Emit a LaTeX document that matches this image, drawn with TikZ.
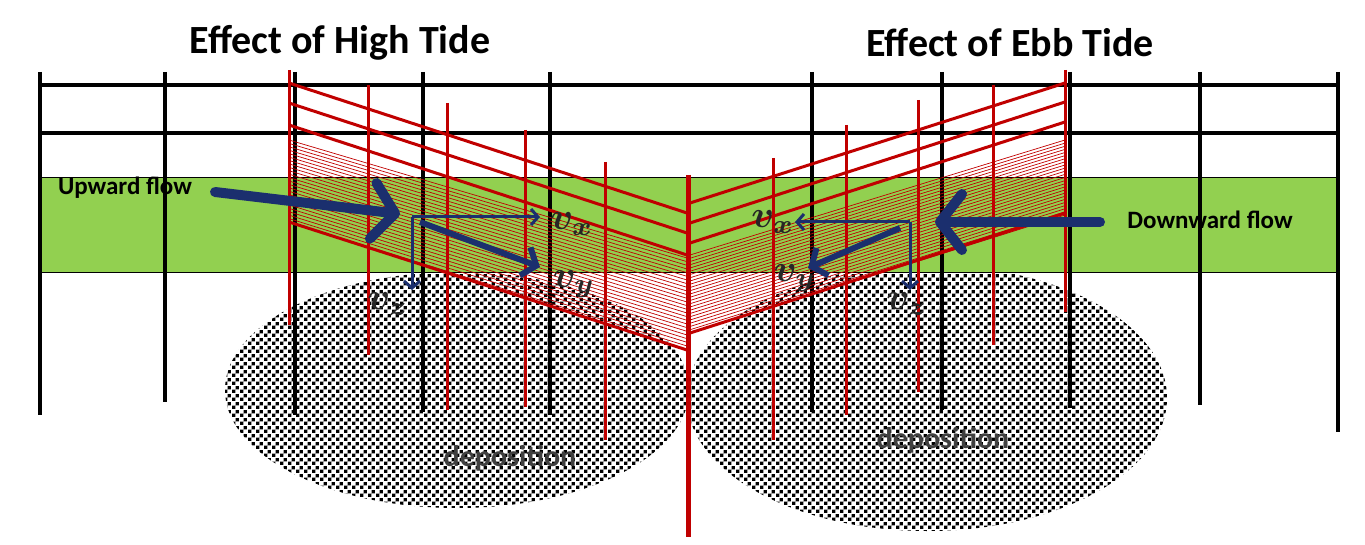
\documentclass[tikz,border=0pt]{standalone}
\usepackage{fontspec}
\usepackage{graphicx}
\setmainfont{Carlito}
\usetikzlibrary{arrows.meta,patterns}
\pgfdeclarepatternformonly{stip}{\pgfqpoint{0pt}{0pt}}{\pgfqpoint{8pt}{8pt}}{\pgfqpoint{8pt}{8pt}}{%
\pgfpathrectangle{\pgfqpoint{0pt}{0pt}}{\pgfqpoint{3.8pt}{3.8pt}}%
\pgfpathrectangle{\pgfqpoint{4pt}{4pt}}{\pgfqpoint{3.8pt}{3.8pt}}\pgfusepath{fill}}
\definecolor{navy}{HTML}{1B2F6E}
\definecolor{grn}{HTML}{92D050}
\definecolor{rd}{HTML}{C00000}
\newcommand{\vlab}[1]{\scalebox{3.8}{\boldmath$#1$}}
\begin{document}
\begin{tikzpicture}[x=1pt,y=-1pt,
 blk/.style={line width=3.5pt,black},
 red/.style={line width=3pt,rd},
 thin/.style={line width=0.7pt,rd},
 big/.style={line width=10pt,navy,line cap=round,-{Straight Barb[length=22pt,width=56pt,round]}},
 mid/.style={line width=6pt,navy,-{Straight Barb[length=12pt,width=30pt]}},
 sm/.style={line width=3pt,navy,-{Straight Barb[length=7pt,width=16pt]}},
 lab/.style={font=\bfseries\fontsize{25}{27}\selectfont},
 ttl/.style={font=\bfseries\fontsize{40}{44}\selectfont},
 vl/.style={inner sep=0pt,text=black!85}]
\useasboundingbox (0,0) rectangle (1365,545);
% stipple
\fill[pattern=stip] (457,390) ellipse [x radius=232,y radius=118];
\fill[pattern=stip] (927,398) ellipse [x radius=240,y radius=133];
% green band
\fill[grn] (40,178) rectangle (1340,273);
\draw[line width=1pt] (40,178) -- (1340,178) (40,273) -- (1340,273);
% black grid
\draw[blk] (40,85) -- (1340,85) (40,133) -- (1340,133);
\foreach \x/\b in {40/415,165/402,295/415,423/412,550/415,812/412,942/410,1070/408,1200/405,1338/432}
  \draw[blk] (\x,72) -- (\x,\b);
% thin hatch
\foreach \i in {0,...,24}{
  \draw[thin] (289,{140+\i*82/24}) -- (687,{258+\i*88/24});
  \draw[thin] (1065,{140+\i*75/24}) -- (690,{255+\i*78/24});
}
% thick fan lines
\foreach \a/\b in {83/213,103/233,125/255,222/350}
  \draw[red] (289,\a) -- (687,\b);
\foreach \a/\b in {83/203,102/223,122/243,213/333}
  \draw[red] (1065,\a) -- (690,\b);
% red posts
\foreach \x/\t/\b in {289/70/325,368/85/355,447/103/410,525/130/407,605/162/440,773/158/440,846/125/415,918/100/392,993/85/345,1065/70/312}
  \draw[red] (\x,\t) -- (\x,\b);
\draw[rd,line width=5pt] (688,175) -- (688,537);
% arrows
\draw[big] (215,192) -- (400,214);
\coordinate (LO) at (412,217);
\draw[sm] (LO) -- (540,217);
\draw[sm] (LO) -- (412,290);
\draw[mid] (420,222) -- (540,267);
\draw[big] (1100,222) -- (935,222);
\coordinate (RO) at (910,222);
\draw[sm] (RO) -- (795,222);
\draw[sm] (RO) -- (910,290);
\draw[mid] (900,228) -- (808,268);
% labels
\node[vl] (vx1) at (572,224) {\vlab{v_x}};
\node[vl] (vy1) at (574,284) {\vlab{v_y}};
\node[vl] (vz1) at (388,304) {\vlab{v_z}};
\node[vl] (vx2) at (773,222) {\vlab{v_x}};
\node[vl] (vy2) at (795,278) {\vlab{v_y}};
\node[vl] (vz2) at (907,304) {\vlab{v_z}};
\node[lab] (up) at (125,188) {Upward flow};
\node[lab] (dn) at (1210,220) {Downward flow};
\node[ttl] (t1) at (340,43) {Effect of High Tide};
\node[ttl] (t2) at (1010,43) {Effect of Ebb Tide};
\node[font=\bfseries\fontsize{30}{32}\selectfont,text=black!75] (d1) at (510,458) {deposition};
\node[font=\bfseries\fontsize{30}{32}\selectfont,text=black!75] (d2) at (943,440) {deposition};
\end{tikzpicture}
\end{document}
